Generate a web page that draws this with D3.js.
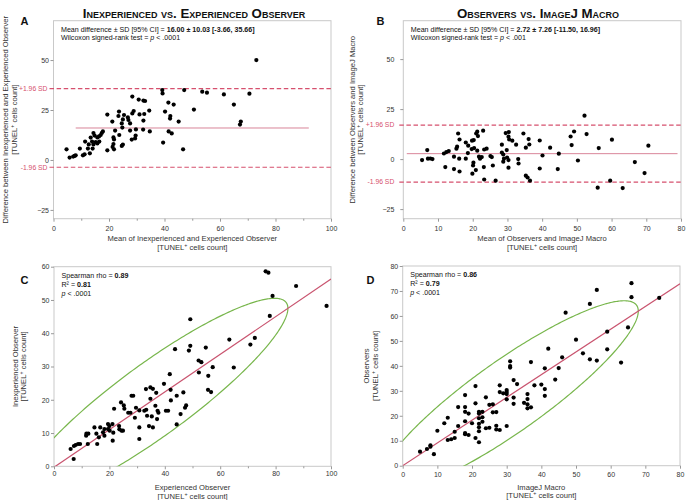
<!DOCTYPE html>
<html><head><meta charset="utf-8">
<script src="https://cdn.jsdelivr.net/npm/d3@7"></script>
<style>body{margin:0;background:#fff} text{font-family:"Liberation Sans",Arial,Helvetica,sans-serif}</style>
</head><body><svg id="c" width="689" height="500"></svg>
<script>
// ---------- DATA ----------
// Panel A: Bland-Altman, inexperienced vs experienced observer
const aMean=[73.1,39.2,39.3,47.1,53.6,55.3,61.4,70.6,65,50.6,41.4,43.3,40.2,42.1,42,45.1,41.5,42.6,39.5,46.7,67.5,67.2,28.4,30.7,32.4,33,34.5,32.7,31,28.9,28.4,32.4,34.7,32.3,29.7,27.6,29.6,29.4,28.2,19.4,23.6,23.4,25.4,26.8,27,25,21.2,24.6,27.6,24.8,22.2,23.7,21.6,21.8,24.6,25,21.6,21.3,21.8,19.4,17.8,17.4,17,14.4,14.8,16.4,15.8,13.4,11.4,13.9,15.2,15.8,16.5,14.4,12.7,12.4,14.1,9.5,11.2,10.6,13.1,4.7,5.8,7.1,8,7.6];
const aDiff=[50,35,33.3,35,34.2,33.7,32.8,33.2,27.7,25.2,28.7,27.7,24.2,22,20.7,19.2,14.3,13.3,8.7,5.3,19.2,17.7,31.7,30.2,29.7,29.5,24.7,23,22.8,24.5,23.3,19.7,14.3,15.2,15.3,14.7,12.2,10.8,10.2,22.7,24.2,22,22.5,21.3,20,20.3,19.2,18.3,18.3,16.2,14.7,12.5,11.3,10.3,7,7.7,8,6.5,5.3,4.8,14.3,13.5,12.5,13.5,12.2,11.8,11.3,11.2,9.2,9.2,9,8.3,9.2,7.8,7.8,5.7,5.7,5.7,2.8,2.3,3.3,5.3,1.2,1.7,2.3,2];
// mean difference, SD, lower limit, upper limit
const aStats=[16.00,10.03,-3.66,35.66];
const aMeanLineRange=[8,92];

// Panel B: Bland-Altman, observers vs ImageJ macro
const bMean=[5.4,6.9,7.1,7.8,8.4,11.7,12.4,13.1,12.1,14.6,14.6,15.8,16.2,15.5,15.3,16.1,16.2,18,18.7,18,18.6,19.7,19.8,20.3,21,21.3,21.5,23,20.4,21.3,20.2,20.1,19.9,20.9,21.8,22.1,22.6,23.3,24,23.2,23.3,25.1,25.5,25.8,26.6,28.4,28.4,28.8,29,28.8,29.5,30.4,30.3,30.5,31.4,29.8,29.9,30.3,30.3,32.5,33.1,33.2,34.6,36.1,36.3,35.3,35.3,35.8,36.5,39.3,40.1,39.3,42.3,44.8,44.5,48.2,49.2,48.5,50.3,52.2,52.8,56,56.3,59.6,60.1,63.2,66.7,69.5,70.6];
const bDiff=[-0.5,4.5,0.2,0.3,0,2.8,3.5,4,-4,-5,1.2,12.8,9.8,6.2,5.2,0.2,-6.2,8.3,6.7,0.2,3,5,9.2,9.5,12.8,13.7,11.5,14.2,5.5,4.2,-1.8,-3.2,-7.3,-5.5,1.2,0.2,1,4.8,5.2,-4,-10.2,1.5,1,-3.2,-10.8,7.2,3.3,2.3,0.2,-1.3,13,13.5,11.2,9.8,9.2,4.5,0.8,-0.5,-4.3,7.2,0,-2.2,12.8,10,7.3,5.7,-8.3,-9.2,-10.8,9.3,1.8,-4.7,5.7,2.7,-5,11.3,13.8,7,-0.7,21.7,12.5,-14.3,5.5,-10.8,9.7,-14.5,-1.5,-7,6.7];
const bStats=[2.72,7.26,-11.50,16.96];
const bMeanLineRange=[1,79];

// Panel C: inexperienced vs experienced observer
const cExp=[76.4,77.4,87.4,98.4,77.9,78.9,49.2,63.3,72.5,70.9,43.7,48.7,49.2,54.8,52.2,53.2,57.3,64.9,41.8,52.3,55.7,55.6,56.7,39.7,33.2,34.8,35.7,42.1,36.9,28,28.6,44.3,46.7,34.8,42.2,24.2,25.2,25.4,21.7,29.6,36.6,47.7,47.3,26.8,27.6,30.8,32.6,33.3,37.4,37.7,40.4,41.2,45.7,29.2,33.6,35.3,37.2,44.3,19.5,21.1,23.5,20,30.8,34.3,35.7,14.6,16.7,18.2,19.5,15.3,17.7,20.1,21.4,23.6,24.4,24.9,11.7,12.4,11.6,16.2,18.2,21.2,30.8,15.6,12.2,9.4,8.7,7.8,7.2,6,7.1];
const cInexp=[58.6,58.2,54.2,48.2,45.2,51.2,44.2,38.1,38.6,36.6,35.2,34.8,36.2,35.7,31.8,31.3,29.8,29.7,27.7,28.2,27.2,23,22.3,24.8,23.2,23.7,23.3,23,22.1,21.2,21.2,21.2,22.2,20.3,19.8,19.2,18.3,17.3,17.3,17.6,18.2,18.3,17.6,16.1,16.1,16.8,16.7,17,16.7,16.1,16.7,16.7,15.7,14.6,15.2,15,14.2,12.6,12.7,12.7,12.1,12.1,11.7,12.1,11.7,11.7,11.7,11.2,11.2,9.8,10.2,10.7,10.1,11.1,10.7,10.7,9.8,9.8,9.2,8.7,9.2,7.7,8.2,6.7,6.7,6.7,6.7,6.4,6.1,5.2,2.2];
const cText=[["Spearman rho = ","0.89"],["R\u00B2 = ","0.81"]];

// Panel D: observers vs ImageJ macro
const dMacro=[5,7,8,8,9,10,12,13,13,14,15,15,16,16,18,18,18,18,18,18,19,19,20,21,21,21,22,22,22,22,22,22,22,23,23,23,24,24,25,25,26,26,27,27,27,28,28,28,29,30,30,30,30,30,32,32,32,33,35,36,36,36,36,37,38,40,41,41,44,66,66,74,56,54,47,65,59,50,59,52,54,56,63,42,46,45,41,37,31,31,31];
const dObs=[5.6,6.7,7.6,8.2,4.6,14,17,19.2,10.3,10.6,11.1,13.6,15.9,23.5,28.3,23.5,21.6,17.8,13.1,12.6,12.3,20.9,17,25,31.9,11.1,9.4,21.6,20.9,19,16.8,15.4,13.8,21.6,19.4,17.6,27.4,15,15.2,24.4,24.6,21.4,21.5,16,14.5,14.3,32.2,29.5,29,30.3,29.5,28.7,26.6,15.9,34.3,27.3,24.8,32.7,25.2,28.7,26.7,24.6,23,23.4,32.2,32.5,30.7,28,34.5,73.1,67.5,67.2,70.4,64.8,61.3,55.4,53.7,50.5,46.6,45,42.6,42.1,41.3,46.9,43.4,39.1,39,41.5,41.8,39.9,39.3];
const dText=[["Spearman rho = ","0.86"],["R\u00B2 = ","0.79"]];

// ---------- DRAW ----------
const svg=d3.select("#c");
const PINK="#d6506e", MEANC="#d98599", REG="#c9546f", GREEN="#78b64c", FRAME="#c9c9c9", TXT="#333";
const STAT=7.1;
let clipId=0;

function frame(x,y){
  const [x0,x1]=x.range(), [y0,y1]=y.range();
  return {x0,x1,y0:y1,y1:y0};
}
function drawAxes(x,y,o){
  const f=frame(x,y);
  svg.append("rect").attr("x",f.x0).attr("y",f.y0).attr("width",f.x1-f.x0).attr("height",f.y1-f.y0)
    .attr("fill","none").attr("stroke",FRAME).attr("stroke-width",1);
  svg.append("g").attr("transform",`translate(0,${f.y1})`)
    .call(d3.axisBottom(x).tickValues(o.xt).tickSize(3).tickPadding(o.xpad).tickFormat(d3.format("d")));
  if(o.xminor) svg.append("g").attr("transform",`translate(0,${f.y1})`)
    .call(d3.axisBottom(x).tickValues(o.xminor).tickSize(2).tickFormat(""));
  svg.append("g").attr("transform",`translate(${f.x0},0)`)
    .call(d3.axisLeft(y).tickValues(o.yt).tickSize(3).tickPadding(o.ypad).tickFormat(d3.format("d")));
  svg.selectAll(".domain").remove();
  svg.selectAll(".tick line").attr("stroke","#999");
  svg.selectAll(".tick text").attr("fill",TXT).attr("font-size",7).attr("font-family",'"Liberation Sans",Arial,sans-serif');
  const id="clip"+(clipId++);
  svg.append("clipPath").attr("id",id).append("rect").attr("x",f.x0).attr("y",f.y0).attr("width",f.x1-f.x0).attr("height",f.y1-f.y0);
  return {f,clip:`url(#${id})`};
}
function tunel(sel){
  sel.append("tspan").text("[TUNEL");
  sel.append("tspan").attr("baseline-shift","super").attr("font-size","0.7em").text("+");
  sel.append("tspan").text(" cells count]");
}
function xTitle(cx,yb,line1){
  svg.append("text").attr("x",cx).attr("y",yb).attr("text-anchor","middle").attr("font-size",7.6).attr("fill",TXT).text(line1);
  svg.append("text").attr("x",cx).attr("y",yb+8.6).attr("text-anchor","middle").attr("font-size",7.6).attr("fill",TXT).call(tunel);
}
function yTitle(xb,cy,line1){
  svg.append("text").attr("transform",`translate(${xb},${cy}) rotate(-90)`).attr("text-anchor","middle").attr("font-size",7.6).attr("fill",TXT).text(line1);
  svg.append("text").attr("transform",`translate(${xb+8.6},${cy}) rotate(-90)`).attr("text-anchor","middle").attr("font-size",7.6).attr("fill",TXT).call(tunel);
}
function letter(x,yb,t){
  svg.append("text").attr("x",x).attr("y",yb).attr("font-size",11).attr("font-weight","bold").attr("fill","#111").text(t);
}
function title(cx,yb,t){
  svg.append("text").attr("x",cx).attr("y",yb).attr("text-anchor","middle").attr("font-size",13.3).attr("font-weight","bold")
    .style("font-variant","small-caps").attr("fill","#111").text(t);
}
function dots(x,y,xs,ys){
  svg.append("g").selectAll("circle").data(xs.map((v,i)=>[v,ys[i]])).join("circle")
    .attr("cx",d=>x(d[0])).attr("cy",d=>y(d[1])).attr("r",2.1).attr("fill","#000");
}

function blandAltman(o){
  const x=d3.scaleLinear().domain(o.xd).range(o.xr);
  const y=d3.scaleLinear().domain(o.yd).range(o.yr);
  const {f}=drawAxes(x,y,{xt:o.xt,xminor:o.xminor,yt:[-25,0,25,50],xpad:o.xpad,ypad:o.ypad});
  const [m,sd,lo,hi]=o.stats;
  svg.append("line").attr("x1",x(o.mlr[0])).attr("x2",x(o.mlr[1])).attr("y1",y(m)).attr("y2",y(m))
    .attr("stroke",MEANC).attr("stroke-width",1);
  [[hi,"+1.96 SD"],[lo,"-1.96 SD"]].forEach(([v,l])=>{
    svg.append("line").attr("x1",f.x0-4).attr("x2",f.x1).attr("y1",y(v)).attr("y2",y(v))
      .attr("stroke",PINK).attr("stroke-width",1.2).attr("stroke-dasharray","4.5,2.6");
    svg.append("text").attr("x",f.x0-o.lblOff).attr("y",y(v)+2.3).attr("text-anchor","end").attr("font-size",6.8).attr("fill",PINK).text(l);
  });
  dots(x,y,o.xs,o.ys);
  const t1=svg.append("text").attr("x",f.x0+7.5).attr("y",f.y0+11.3).attr("font-size",STAT).attr("fill","#111");
  t1.append("tspan").text("Mean difference \u00B1 SD [95% CI] = ");
  t1.append("tspan").attr("font-weight","bold").text(`${m.toFixed(2)} \u00B1 ${sd.toFixed(2)} [${lo.toFixed(2)}, ${hi.toFixed(2)}]`);
  const t2=svg.append("text").attr("x",f.x0+7.5).attr("y",f.y0+19.5).attr("font-size",STAT).attr("fill","#111");
  t2.append("tspan").text("Wilcoxon signed-rank test = ");
  t2.append("tspan").attr("font-style","italic").text("p");
  t2.append("tspan").text(" < "+o.p);
}

function scatter(o){
  const x=d3.scaleLinear().domain(o.xd).range(o.xr);
  const y=d3.scaleLinear().domain(o.yd).range(o.yr);
  const {f,clip}=drawAxes(x,y,{xt:o.xt,xminor:o.xminor,yt:o.yt,xpad:o.xpad,ypad:o.ypad});
  const xs=o.xs, ys=o.ys;
  const mx=d3.mean(xs), my=d3.mean(ys), sx=d3.deviation(xs), sy=d3.deviation(ys);
  const r=d3.sum(xs.map((v,i)=>(v-mx)*(ys[i]-my)))/((xs.length-1)*sx*sy);
  const c=Math.sqrt(-2*Math.log(0.05));
  const ts=d3.range(0,361).map(a=>a*Math.PI/180);
  const ell=ts.map(t=>[mx+c*sx*Math.cos(t), my+c*sy*(r*Math.cos(t)+Math.sqrt(1-r*r)*Math.sin(t))]);
  svg.append("path").attr("clip-path",clip).attr("d",d3.line().x(d=>x(d[0])).y(d=>y(d[1]))(ell))
    .attr("fill","none").attr("stroke",GREEN).attr("stroke-width",1.2);
  const slope=r*sy/sx, icpt=my-slope*mx;
  const xd=x.domain();
  svg.append("line").attr("clip-path",clip).attr("x1",x(xd[0])).attr("y1",y(icpt+slope*xd[0])).attr("x2",x(xd[1])).attr("y2",y(icpt+slope*xd[1]))
    .attr("stroke",REG).attr("stroke-width",1.2);
  dots(x,y,xs,ys);
  o.text.forEach((t,i)=>{
    const tx=svg.append("text").attr("x",f.x0+7.5).attr("y",f.y0+11.3+i*8.9).attr("font-size",STAT).attr("fill","#111");
    tx.append("tspan").text(t[0]); tx.append("tspan").attr("font-weight","bold").text(t[1]);
  });
  const tp=svg.append("text").attr("x",f.x0+7.5).attr("y",f.y0+11.3+2*8.9).attr("font-size",STAT).attr("fill","#111");
  tp.append("tspan").attr("font-style","italic").text("p"); tp.append("tspan").text(" < .0001");
}

title(194,17.5,"Inexperienced vs. Experienced Observer");
title(538,17.5,"Observers vs. ImageJ Macro");
letter(20.5,25,"A"); letter(376.5,25,"B"); letter(20.5,283.5,"C"); letter(366.5,283.5,"D");

blandAltman({xd:[0,100],xr:[53.5,331],yd:[-29.4,69.7],yr:[218.7,20.7],xt:d3.range(0,101,20),xminor:d3.range(10,100,20),
  xpad:4,ypad:1.5,lblOff:6,stats:aStats,mlr:aMeanLineRange,xs:aMean,ys:aDiff,p:".0001"});
blandAltman({xd:[0,80],xr:[403.3,681],yd:[-29.8,69.2],yr:[218.7,20.7],xt:d3.range(0,81,10),xminor:null,
  xpad:4,ypad:6,lblOff:9,stats:bStats,mlr:bMeanLineRange,xs:bMean,ys:bDiff,p:".001"});
scatter({xd:[0,100],xr:[54,331],yd:[0,60],yr:[466.3,266.7],xt:d3.range(0,101,20),xminor:d3.range(10,100,20),
  yt:d3.range(0,61,10),xpad:1.5,ypad:1.5,xs:cExp,ys:cInexp,text:cText});
scatter({xd:[0,80],xr:[402.7,680],yd:[0,80],yr:[465.7,266],xt:d3.range(0,81,10),xminor:null,
  yt:d3.range(0,81,10),xpad:3,ypad:1.5,xs:dMacro,ys:dObs,text:dText});

xTitle(192.3,241,"Mean of Inexperienced and Experienced Observer");
xTitle(542,241,"Mean of Observers and ImageJ Macro");
xTitle(192.5,490,"Experienced Observer");
xTitle(541.3,489.5,"ImageJ Macro");
yTitle(8,119.7,"Difference between Inexperienced and Experienced Observer");
yTitle(354.5,119.7,"Difference between Observers and ImageJ Macro");
yTitle(17.5,366.5,"Inexperienced Observer");
yTitle(369,366,"Observers");
</script></body></html>
